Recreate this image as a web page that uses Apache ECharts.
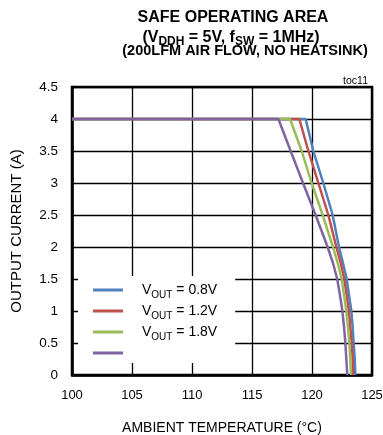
<!DOCTYPE html>
<html>
<head>
<meta charset="utf-8">
<script src="https://cdn.jsdelivr.net/npm/echarts@6/dist/echarts.min.js"></script>
<style>
  html, body { margin: 0; padding: 0; background: #fff; }
  #chart { width: 383px; height: 435px; }
</style>
</head>
<body>
<div id="chart"></div>
<script>
/* ---------- data ---------- */
const currents = [4, 4, 3.5, 3, 2.5, 2, 1.75, 1.5, 1.25, 1, 0.75, 0.5, 0.25, 0];
const temp08 = [100, 119.47, 120.11, 120.94, 121.72, 122.25, 122.58, 122.89, 123.08, 123.28, 123.39, 123.47, 123.56, 123.61];
const temp12 = [100, 118.94, 119.7, 120.53, 121.36, 122.03, 122.39, 122.69, 122.89, 123.08, 123.19, 123.31, 123.39, 123.44];
const temp18 = [100, 118.17, 119.14, 119.97, 120.89, 121.75, 122.14, 122.47, 122.67, 122.86, 123.0, 123.11, 123.19, 123.25];
const temp33 = [100, 117.2, 118.22, 119.25, 120.3, 121.3, 121.75, 122.1, 122.33, 122.53, 122.67, 122.78, 122.86, 122.94];

const seriesNames = ['0.8V', '1.2V', '1.8V', 'V4'];
const seriesTemps = [temp08, temp12, temp18, temp33];
const seriesColors = ['#4f81bd', '#c0504d', '#9bbb59', '#8064a2'];

const FONT = '"Liberation Sans", Arial, sans-serif';

const chart = echarts.init(document.getElementById('chart'));

chart.setOption({
  animation: false,
  textStyle: { fontFamily: FONT },
  grid: {
    left: 72, right: 11, top: 87, bottom: 60,
    outerBoundsMode: 'none',
    containLabel: false,
    show: true, borderColor: '#000', borderWidth: 2.5,
  },
  xAxis: {
    type: 'value',
    min: 100, max: 125, interval: 5,
    name: 'AMBIENT TEMPERATURE (°C)',
    nameLocation: 'middle',
    nameGap: 46,
    nameTextStyle: { fontSize: 14, color: '#000', fontFamily: FONT },
    axisLine: { show: true, lineStyle: { color: '#000', width: 2.5 } },
    axisTick: { show: false },
    axisLabel: { fontSize: 13, color: '#000', margin: 14, fontFamily: FONT },
    splitLine: { show: true, lineStyle: { color: '#000', width: 1.3 } },
  },
  yAxis: {
    type: 'value',
    min: 0, max: 4.5, interval: 0.5,
    name: 'OUTPUT CURRENT (A)',
    nameLocation: 'middle',
    nameGap: 48,
    nameTextStyle: { fontSize: 15, color: '#000', fontFamily: FONT },
    axisLine: { show: true, lineStyle: { color: '#000', width: 2.5 } },
    axisTick: { show: false },
    axisLabel: { fontSize: 13.5, color: '#000', margin: 14, fontFamily: FONT },
    splitLine: { show: true, lineStyle: { color: '#000', width: 1.3 } },
  },
  legend: {
    orient: 'vertical',
    left: 78, top: 276,
    padding: [7, 18, 3, 15],
    backgroundColor: '#fff',
    itemGap: 4,
    itemWidth: 30,
    itemHeight: 3,
    icon: 'rect',
    selectedMode: false,
    data: seriesNames,
    formatter: (name) => name === 'V4' ? '{m| }' : '{m|V}{s|OUT}{m| = ' + name + '}',
    textStyle: {
      padding: [0, 0, 0, 14],
      rich: {
        m: { fontSize: 14, color: '#000', lineHeight: 20, fontFamily: FONT, verticalAlign: 'middle' },
        s: { fontSize: 10, color: '#000', lineHeight: 20, fontFamily: FONT, verticalAlign: 'bottom' },
      },
    },
  },
  graphic: [
    {
      type: 'text', x: 233, y: 18,
      style: {
        text: 'SAFE OPERATING AREA',
        align: 'center', verticalAlign: 'middle',
        fontSize: 16, fontWeight: 'bold', fontFamily: FONT, fill: '#000',
      },
    },
    {
      type: 'text', x: 231, y: 37.5,
      style: {
        text: '{m|(V}{s|DDH}{m| = 5V, f}{s|SW}{m| = 1MHz)}',
        align: 'center', verticalAlign: 'middle',
        rich: {
          m: { fontSize: 16, fontWeight: 'bold', fontFamily: FONT, lineHeight: 20, verticalAlign: 'middle', fill: '#000' },
          s: { fontSize: 12, fontWeight: 'bold', fontFamily: FONT, lineHeight: 20, verticalAlign: 'bottom', fill: '#000' },
        },
      },
    },
    {
      type: 'text', x: 245, y: 51,
      style: {
        text: '(200LFM AIR FLOW, NO HEATSINK)',
        align: 'center', verticalAlign: 'middle',
        fontSize: 14.5, fontWeight: 'bold', fontFamily: FONT, fill: '#000',
      },
    },
    {
      type: 'text', x: 368, y: 81,
      style: {
        text: 'toc11',
        align: 'right', verticalAlign: 'middle',
        fontSize: 10.5, fontFamily: FONT, fill: '#000',
      },
    },
  ],
  series: seriesNames.map((name, i) => ({
    name,
    type: 'line',
    showSymbol: false,
    symbol: 'none',
    smooth: false,
    z: 3 + i,
    itemStyle: { color: seriesColors[i] },
    lineStyle: { color: seriesColors[i], width: 2.5 },
    data: seriesTemps[i].map((t, j) => [t, currents[j]]),
  })),
});
</script>
</body>
</html>
